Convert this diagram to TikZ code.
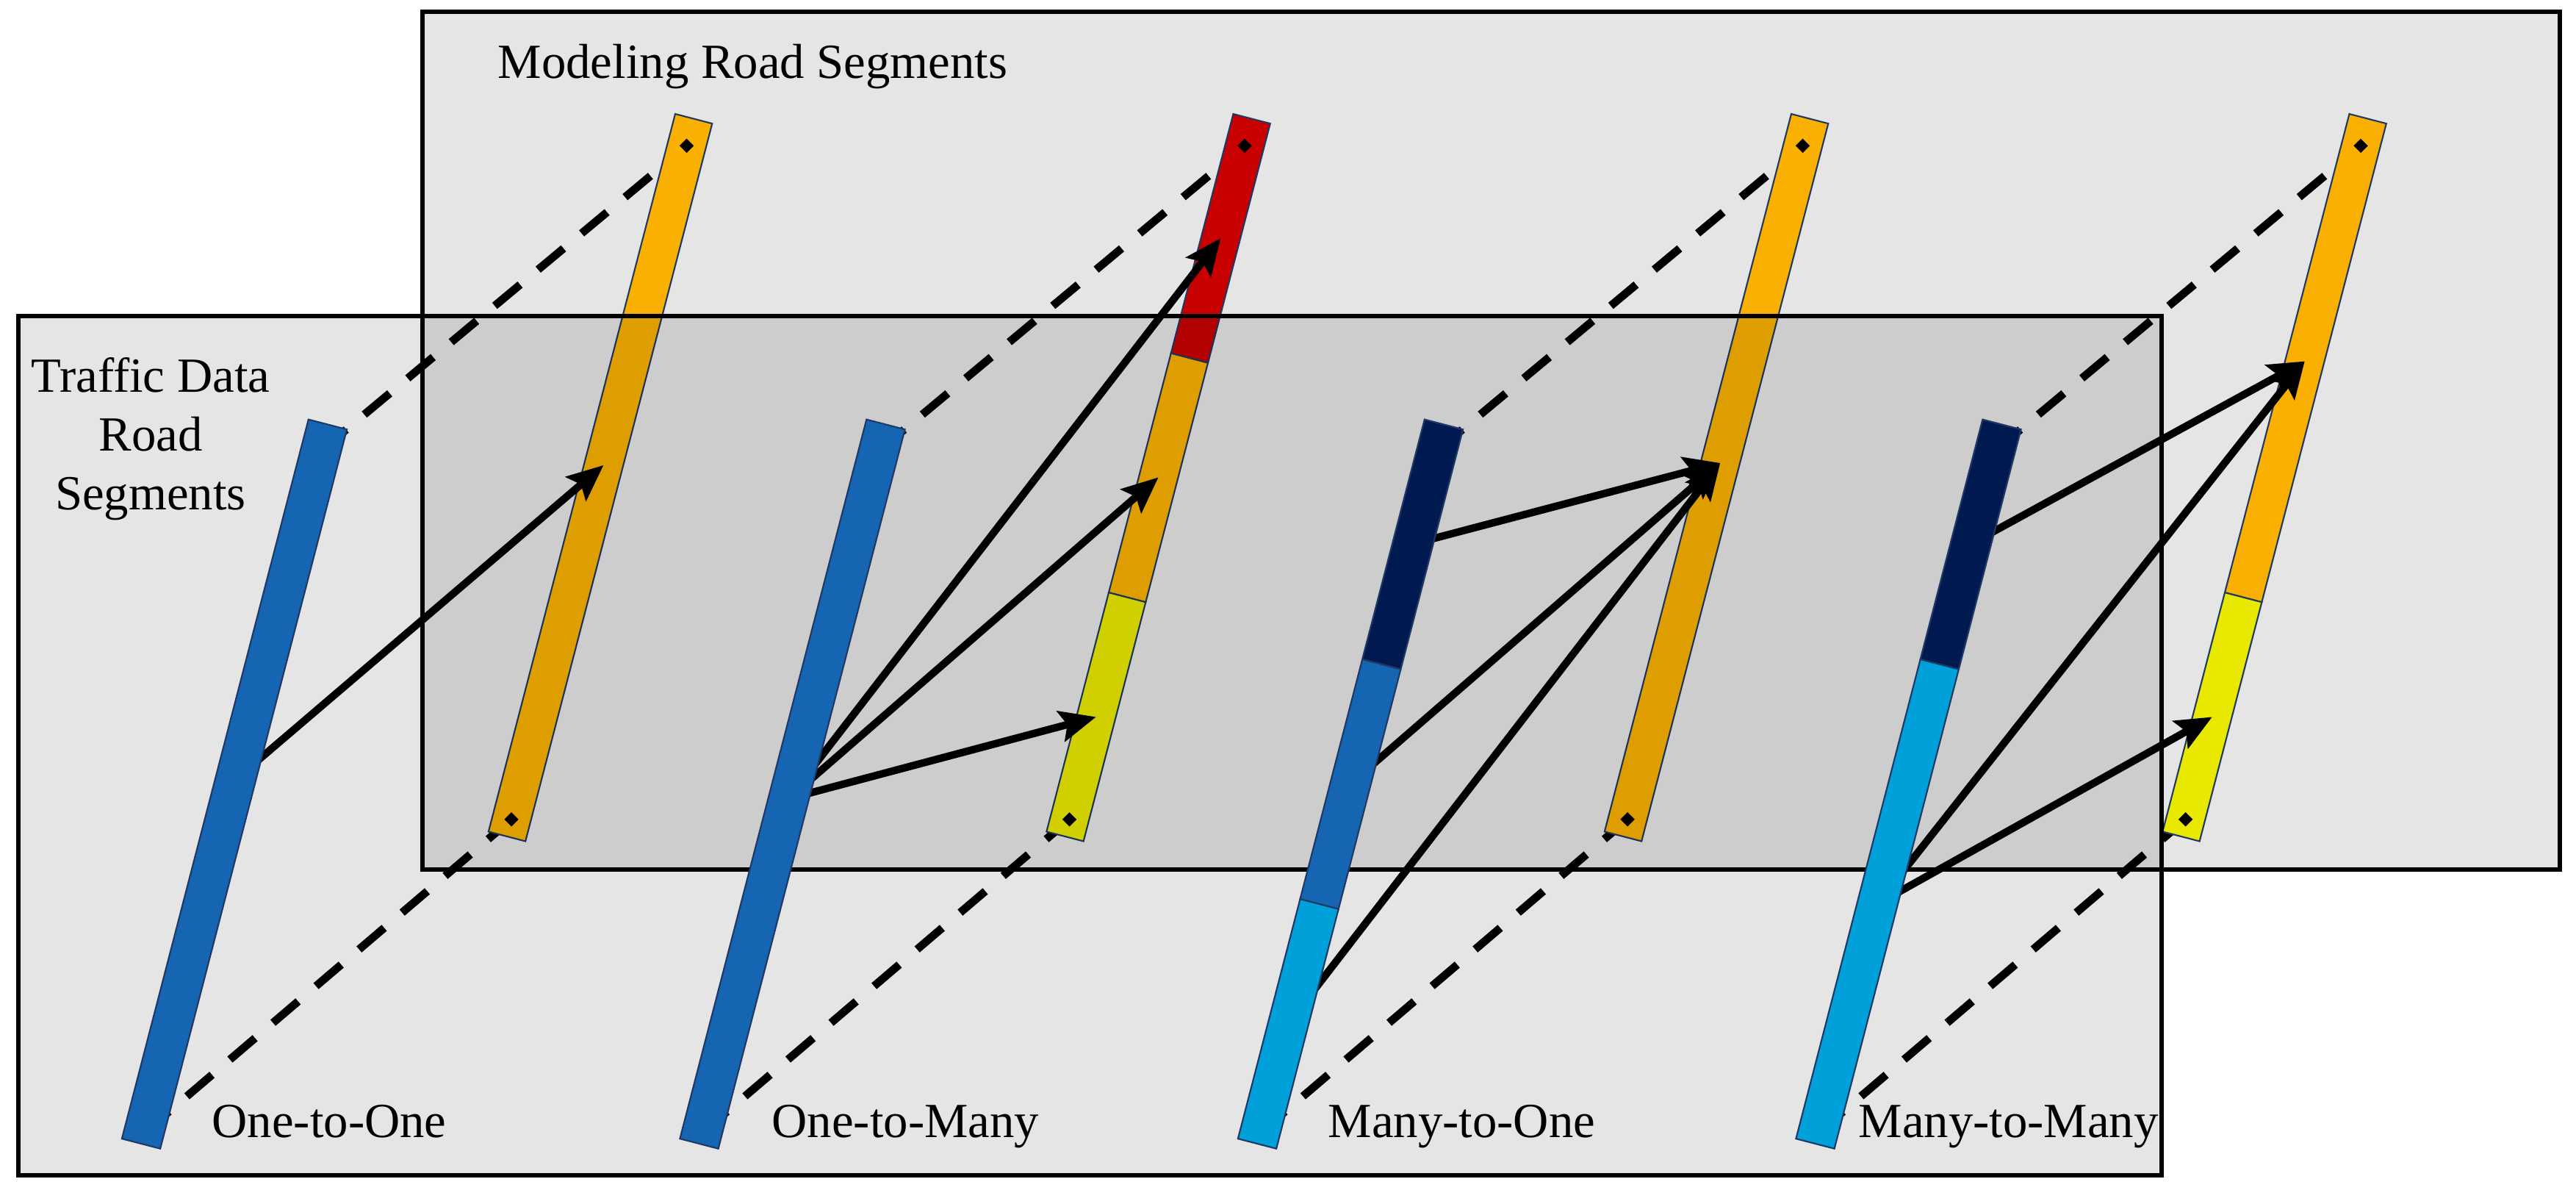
\documentclass[tikz,border=0pt]{standalone}
\usepackage{fontspec}
\setmainfont{Liberation Serif}
\usetikzlibrary{arrows.meta,shapes.geometric}

\definecolor{tdblue}{RGB}{22,101,178}
\definecolor{tdnavy}{RGB}{0,25,80}
\definecolor{tdsky}{RGB}{0,160,218}
\definecolor{mramber}{RGB}{249,176,0}
\definecolor{mrred}{RGB}{200,0,0}
\definecolor{mryellow}{RGB}{232,232,0}
\definecolor{barline}{RGB}{31,56,100}

\tikzset{
  panel/.style={draw=black, line width=1.6pt},
  seg/.style={fill=#1, draw=barline, line width=0.6pt},
  guide/.style={line width=3.1pt, dash pattern=on 0.45cm off 0.32cm},
  link/.style={line width=2.9pt, -{Stealth[length=14pt,width=12pt,inset=2.5pt]}},
  endmark/.style={diamond, fill=black, inner sep=0pt, minimum size=0.2cm},
  tdbar/.style={shift={({1.92+7.595*#1},0.63)}, rotate=75.45},
  mrbar/.style={shift={({6.90+7.595*#1},4.81)}, rotate=75.41},
  lbl/.style={font=\fontsize{19}{22.8}\selectfont, inner sep=0pt}
}

\begin{document}
\begin{tikzpicture}
  \useasboundingbox (0,0) rectangle (35.06,16.19);

  % Modeling panel (back)
  \fill[black!10] (5.75,4.36) rectangle (34.84,16.03);
  \draw[panel] (5.75,4.36) rectangle (34.84,16.03);
  \node[lbl, anchor=base west] (mrtitle) at (6.77,15.12) {Modeling Road Segments};

  % End points of the bars
  \foreach \g in {0,1,2,3} {
    \begin{scope}[tdbar=\g]
      \coordinate (tdlo\g) at (0.15,0);
      \coordinate (tdhi\g) at (9.74,0);
    \end{scope}
    \begin{scope}[mrbar=\g]
      \coordinate (mrlo\g) at (0.24,0);
      \coordinate (mrhi\g) at (9.71,0);
    \end{scope}
  }

  % Dashed guides between the bar ends
  \foreach \g in {0,1,2,3} {
    \draw[guide] (tdhi\g) -- (mrhi\g);
    \draw[guide] (tdlo\g) -- (mrlo\g);
  }

  % Modeling road segments
  \begin{scope}[mrbar=0]
    \draw[seg=mramber] (0,-0.26) rectangle (10.09,0.26);
    \coordinate (m0) at (5.22,0);
  \end{scope}
  \begin{scope}[mrbar=1]
    \foreach \a/\b/\c in {0/3.363/mryellow, 3.363/6.727/mramber, 6.727/10.09/mrred}
      \draw[seg=\c] (\a,-0.26) rectangle (\b,0.26);
    \coordinate (m1a) at (8.41,0);
    \coordinate (m1b) at (5.05,0);
    \coordinate (m1c) at (1.68,0);
  \end{scope}
  \begin{scope}[mrbar=2]
    \draw[seg=mramber] (0,-0.26) rectangle (10.09,0.26);
    \coordinate (m2) at (5.25,0);
  \end{scope}
  \begin{scope}[mrbar=3]
    \foreach \a/\b/\c in {0/3.363/mryellow, 3.363/10.09/mramber}
      \draw[seg=\c] (\a,-0.26) rectangle (\b,0.26);
    \coordinate (m3a) at (6.68,0);
    \coordinate (m3b) at (1.68,0);
  \end{scope}

  \foreach \g in {0,1,2,3} {
    \node[endmark] (dhi\g) at (mrhi\g) {};
    \node[endmark] (dlo\g) at (mrlo\g) {};
  }

  % Traffic data panel (front)
  \fill[black, fill opacity=0.1] (0.25,0.20) rectangle (29.42,11.89);
  \draw[panel] (0.25,0.20) rectangle (29.42,11.89);
  \node[lbl, align=center, anchor=north] (tdtitle) at (2.05,11.33) {Traffic Data\\Road\\Segments};

  % Traffic data road segments: arrow origins
  \begin{scope}[tdbar=0]
    \coordinate (t0) at (5.12,0);
  \end{scope}
  \begin{scope}[tdbar=1]
    \coordinate (t1) at (4.85,0);
  \end{scope}
  \begin{scope}[tdbar=2]
    \coordinate (t2a) at (8.43,0);
    \coordinate (t2b) at (5.06,0);
    \coordinate (t2c) at (1.69,0);
  \end{scope}
  \begin{scope}[tdbar=3]
    \coordinate (t3a) at (8.43,0);
    \coordinate (t3b) at (3.37,0);
  \end{scope}

  % Mappings
  \draw[link] (t0) -- (m0);
  \draw[link] (t1) -- (m1a);
  \draw[link] (t1) -- (m1b);
  \draw[link] (t1) -- (m1c);
  \draw[link] (t2a) -- (m2);
  \draw[link] (t2b) -- (m2);
  \draw[link] (t2c) -- (m2);
  \draw[link] (t3a) -- (m3a);
  \draw[link] (t3b) -- (m3a);
  \draw[link] (t3b) -- (m3b);

  % Traffic bars on top
  \begin{scope}[tdbar=0]
    \draw[seg=tdblue] (0,-0.27) rectangle (10.11,0.27);
  \end{scope}
  \begin{scope}[tdbar=1]
    \draw[seg=tdblue] (0,-0.27) rectangle (10.11,0.27);
  \end{scope}
  \begin{scope}[tdbar=2]
    \foreach \a/\b/\c in {0/3.37/tdsky, 3.37/6.74/tdblue, 6.74/10.11/tdnavy}
      \draw[seg=\c] (\a,-0.27) rectangle (\b,0.27);
  \end{scope}
  \begin{scope}[tdbar=3]
    \foreach \a/\b/\c in {0/6.74/tdsky, 6.74/10.11/tdnavy}
      \draw[seg=\c] (\a,-0.27) rectangle (\b,0.27);
  \end{scope}

  % Case labels
  \node[lbl, anchor=base west] (case1) at (2.88,0.71) {One-to-One};
  \node[lbl, anchor=base west] (case2) at (10.50,0.71) {One-to-Many};
  \node[lbl, anchor=base west] (case3) at (18.07,0.71) {Many-to-One};
  \node[lbl, anchor=base west] (case4) at (25.29,0.71) {Many-to-Many};
\end{tikzpicture}
\end{document}
